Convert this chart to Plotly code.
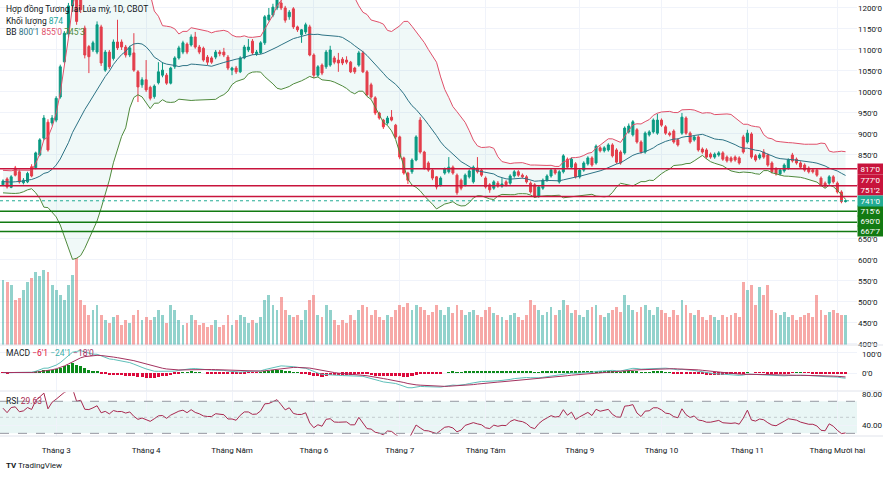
import plotly.graph_objects as go
import pandas as pd

# ---------------- data ----------------
warmup_close = [775, 790, 782, 770, 762, 768, 780, 795, 800, 788, 776, 765, 760, 772, 786,
                798, 805, 812, 796, 780, 770, 778, 792, 800, 790, 782]

open_ = [779, 793, 773, 819, 810, 784, 786, 822, 820, 850, 890, 928, 926, 933, 988, 1072, 1138, 1205, 1280, 1245,
         1152, 1108, 1100, 1095, 1155, 1052, 1095, 1080, 1119, 1119, 1107, 1088, 1093, 1048, 1017, 1029,
         1011, 989, 1022, 1040, 1040, 1021, 1060, 1081, 1095, 1114, 1112, 1131, 1107, 1104, 1083, 1081, 1083, 1095,
         1095, 1083, 1052, 1057, 1048, 1081, 1100, 1121, 1091, 1093, 1117, 1172, 1183, 1200,
         1212, 1200, 1179, 1198, 1155, 1136, 1143, 1155, 1088, 1040, 1064, 1060, 1064, 1081, 1076, 1078, 1076, 1071,
         1057, 1064, 1093, 1048, 1017, 986, 950, 933, 926, 940, 921, 893, 843, 807, 810, 838, 933, 857, 831, 814, 798,
         778, 807, 810, 821, 802, 790, 779, 798, 786, 819, 814, 795, 779, 771, 783, 776, 786, 783, 800, 810, 802, 798,
         783, 779, 752, 771, 790, 800, 814, 786, 810, 840, 821, 829, 798,
         814, 829, 843, 831, 867, 860, 862, 874, 862, 857, 855, 905, 898, 910, 881, 857, 898, 905, 902, 933, 917, 902,
         907, 886, 902, 938, 902, 886, 893, 864, 862, 852, 845, 850, 855, 845,
         843, 845, 843, 893, 881, 900, 848, 843, 857, 850, 831, 817, 805, 812, 819, 850, 840, 831, 826, 819, 814, 814,
         795, 783, 783, 798, 783, 762, 739]
high = [792, 797, 802, 824, 815, 795, 810, 828, 858, 890, 945, 935, 945, 990, 1065, 1145, 1212, 1300, 1292, 1262,
        1158, 1112, 1122, 1168, 1160, 1100, 1100, 1125, 1172, 1125, 1112, 1110, 1140, 1052, 1035, 1076,
        1015, 1018, 1071, 1071, 1045, 1060, 1085, 1110, 1122, 1118, 1137, 1143, 1112, 1108, 1088, 1085, 1100, 1100,
        1105, 1088, 1060, 1062, 1085, 1112, 1126, 1126, 1100, 1121, 1183, 1200, 1210, 1240,
        1222, 1205, 1195, 1202, 1158, 1150, 1165, 1160, 1092, 1064, 1068, 1100, 1110, 1086, 1093, 1083, 1085, 1074,
        1060, 1098, 1098, 1052, 1022, 990, 953, 936, 943, 957, 924, 896, 846, 810, 842, 897, 940, 860, 835, 817, 800,
        799, 820, 845, 825, 806, 794, 806, 816, 825, 845, 818, 799, 783, 790, 788, 795, 790, 804, 814, 814, 806, 802,
        787, 783, 778, 794, 804, 818, 818, 814, 852, 844, 844, 833, 818,
        835, 847, 847, 875, 871, 871, 878, 878, 866, 861, 918, 925, 933, 914, 885, 906, 909, 937, 948, 937, 921, 906,
        911, 890, 950, 942, 906, 897, 897, 868, 866, 856, 856, 859, 859, 849,
        847, 849, 847, 898, 910, 904, 852, 854, 864, 854, 835, 821, 818, 830, 842, 855, 844, 835, 830, 823, 818, 818,
        799, 787, 802, 802, 787, 766, 744]
low = [776, 770, 771, 799, 782, 780, 783, 797, 816, 847, 885, 858, 920, 928, 984, 1068, 1130, 1200, 1160, 1188,
       1080, 1045, 1095, 1090, 1062, 1048, 1055, 1075, 1100, 1100, 1082, 1083, 1048, 976, 1010, 1000,
       980, 984, 1018, 1035, 1017, 1018, 1055, 1077, 1090, 1090, 1108, 1103, 1090, 1072, 1064, 1067, 1078, 1085,
       1083, 1052, 1040, 1043, 1045, 1078, 1095, 1088, 1086, 1090, 1112, 1168, 1178, 1195,
       1195, 1165, 1172, 1150, 1143, 1117, 1138, 1085, 1033, 1036, 1040, 1055, 1060, 1066, 1048, 1064, 1066, 1045,
       1043, 1060, 1045, 990, 984, 945, 934, 912, 922, 930, 888, 840, 803, 781, 805, 835, 853, 815, 810, 790, 768,
       775, 803, 806, 803, 755, 766, 775, 794, 782, 806, 798, 770, 760, 767, 772, 772, 775, 779, 796, 798, 794, 782,
       758, 748, 748, 767, 786, 796, 803, 782, 806, 817, 817, 794, 794,
       810, 825, 822, 827, 856, 856, 858, 844, 829, 827, 851, 901, 894, 877, 853, 853, 894, 901, 898, 917, 898, 894,
       877, 870, 898, 898, 877, 882, 858, 853, 841, 841, 841, 846, 836, 832,
       832, 834, 827, 853, 877, 841, 834, 839, 841, 822, 806, 801, 801, 808, 815, 832, 827, 817, 810, 806, 806, 798,
       775, 772, 779, 782, 758, 735, 737]
close = [788, 774, 798, 802, 786, 790, 806, 800, 855, 886, 938, 862, 938, 985, 1060, 1140, 1205, 1285, 1168, 1196,
         1088, 1084, 1117, 1160, 1069, 1095, 1060, 1119, 1105, 1107, 1088, 1105, 1052, 1012, 1029, 1005,
         985, 1014, 1048, 1052, 1021, 1057, 1081, 1105, 1117, 1095, 1131, 1107, 1095, 1076, 1071, 1071, 1095, 1091,
         1088, 1057, 1057, 1048, 1081, 1107, 1107, 1093, 1095, 1117, 1179, 1183, 1202, 1225,
         1200, 1171, 1190, 1155, 1148, 1148, 1160, 1088, 1040, 1060, 1045, 1095, 1100, 1071, 1069, 1069, 1071, 1048,
         1048, 1093, 1048, 993, 988, 950, 938, 917, 938, 933, 893, 845, 807, 790, 838, 893, 857, 819, 814, 795, 774,
         795, 817, 821, 807, 760, 771, 802, 812, 821, 810, 802, 774, 767, 786, 776, 781, 779, 800, 810, 802, 798, 786,
         762, 752, 774, 790, 800, 814, 807, 810, 848, 821, 840, 798, 814,
         831, 843, 826, 871, 860, 867, 874, 848, 833, 831, 914, 919, 929, 881, 857, 902, 905, 933, 933, 921, 902, 898,
         881, 874, 940, 902, 881, 893, 862, 857, 845, 845, 852, 855, 840, 836,
         836, 838, 831, 857, 902, 845, 838, 850, 845, 826, 810, 805, 814, 826, 838, 836, 831, 821, 814, 810, 810, 802,
         779, 776, 798, 786, 762, 739, 741]
volume = [1885, 1827, 1740, 1305, 1363, 1595, 1827, 1943, 2117, 2001, 2175, 2117, 1740,
          1595, 1450, 1305, 1740, 2030, 2523, 1305, 1160, 870,
          1015, 1160, 870, 725, 638, 812, 870, 580, 725, 638, 870, 1015, 725, 812,
          725, 812, 1015, 870, 638, 1160, 1015, 725, 580, 638, 870, 725, 580, 638, 522, 580, 725, 522, 580, 870, 580,
          725, 870, 812, 638,
          725, 638, 812, 1305, 1450, 1160, 1015, 1392, 1015, 870, 812, 870, 725, 1015, 1305,
          1450, 870, 812, 1160, 1015, 725, 580, 725, 638, 870, 725, 1015, 1160, 1102, 870, 1015, 812, 725, 870, 812,
          1015, 1160, 1102, 1218, 1015,
          1160, 1102, 1015, 870, 957, 1160, 1015, 870, 1102, 928, 1160, 1015, 870, 957, 1015, 870, 812, 1015, 1102,
          928, 870, 812, 725, 870, 928, 812, 725, 870, 1305, 1160,
          1015, 870, 957, 1102, 870, 1015, 1305, 1160, 928, 1015, 870, 812, 1015, 1102, 1160, 870, 812, 928, 1015,
          1102, 957, 1450, 1160, 1015, 957, 1102, 1160, 1015, 870, 1102,
          1015, 928, 812, 1015, 870, 1305, 1160, 928, 870, 1015, 812, 725, 870, 812, 725, 870, 812, 870, 928, 812,
          1827, 1595, 1740, 1160, 1682,
          1450, 1740, 1015, 928, 870, 957, 812, 870, 725, 812, 870, 928, 812, 1450, 1015, 870, 957, 1015, 928, 870, 874]

month_idx = [13, 35, 56, 76, 97, 118, 141, 161, 182, 204]
month_labels = ["Tháng 3", "Tháng 4", "Tháng Năm", "Tháng 6", "Tháng 7", "Tháng Tám",
                "Tháng 9", "Tháng 10", "Tháng 11", "Tháng Mười hai"]
price_ticks = [400, 450, 500, 550, 600, 650, 850, 900, 950, 1000, 1050, 1100, 1150, 1200]
macd_ticks = [0, 100]
rsi_ticks = [40, 80]
levels_red = [817.0, 777.0, 751.25]
levels_green = [715.75, 690.0, 667.875]
last_price = 741.0

title_text = "Hợp đồng Tương lai Lúa mỳ, 1D, CBOT"

# ---------------- styles ----------------
UP = "#089981"
DN = "#F23645"
FONT = "Roboto"
TXT = "#131722"
GRID = "#f0f3fa"
RED_LVL = "#c8143c"
GREEN_LVL = "#127a12"
# pixel nudges of the right-hand level labels (TradingView stacks them)
red_label_shift = [0, 5.6, 6.0]
green_label_shift = [0, 0.7, 0]


def fmt(p):
    neg = p < 0
    a = abs(p)
    w = int(a)
    e = int(round((a - w) * 8))
    if e == 8:
        w += 1
        e = 0
    return ("\u2212" if neg else "") + f"{w}'{e}"


N = len(close)
x = list(range(N))

# ---------------- indicators ----------------
full = pd.Series(warmup_close + close, dtype=float)
mid = full.rolling(20).mean()
sd = full.rolling(20).std(ddof=0)
upper = (mid + 2 * sd).iloc[-N:].tolist()
lower = (mid - 2 * sd).iloc[-N:].tolist()
mid = mid.iloc[-N:].tolist()

ema12 = full.ewm(span=12, adjust=False).mean()
ema26 = full.ewm(span=26, adjust=False).mean()
macd = ema12 - ema26
signal = macd.ewm(span=9, adjust=False).mean()
hist = (macd - signal)
macd = macd.iloc[-N:].tolist()
signal = signal.iloc[-N:].tolist()
hist = hist.iloc[-N:].tolist()

delta = full.diff()
gain = delta.clip(lower=0).ewm(alpha=1 / 14, adjust=False).mean()
loss = (-delta.clip(upper=0)).ewm(alpha=1 / 14, adjust=False).mean()
rsi = (100 - 100 / (1 + gain / loss)).iloc[-N:].tolist()

vol_colors = ["rgba(38,166,154,0.5)" if c >= o else "rgba(239,83,80,0.5)" for o, c in zip(open_, close)]
hist_colors = ["#0c8a1a" if h >= 0 else "#dc0a3c" for h in hist]

fig = go.Figure()

# volume (base axis of the price pane)
fig.add_trace(go.Bar(x=x, y=volume, marker=dict(color=vol_colors, line=dict(width=0)),
                     xaxis="x", yaxis="y", width=0.7, showlegend=False, hoverinfo="skip"))

# Bollinger bands
fig.add_trace(go.Scatter(x=x, y=upper, mode="lines", line=dict(color="#e0506a", width=1),
                         xaxis="x", yaxis="y2", showlegend=False, hoverinfo="skip"))
fig.add_trace(go.Scatter(x=x, y=lower, mode="lines", line=dict(color="#4f8a3c", width=1),
                         fill="tonexty", fillcolor="rgba(38,166,154,0.07)",
                         xaxis="x", yaxis="y2", showlegend=False, hoverinfo="skip"))
fig.add_trace(go.Scatter(x=x, y=mid, mode="lines", line=dict(color="#2d7385", width=1),
                         xaxis="x", yaxis="y2", showlegend=False, hoverinfo="skip"))

# candles
fig.add_trace(go.Candlestick(x=x, open=open_, high=high, low=low, close=close,
                             increasing=dict(line=dict(color=UP, width=1), fillcolor=UP),
                             decreasing=dict(line=dict(color=DN, width=1), fillcolor=DN),
                             whiskerwidth=0, xaxis="x", yaxis="y2", showlegend=False))

# MACD
fig.add_trace(go.Bar(x=x, y=hist, marker=dict(color=hist_colors, line=dict(width=0)), width=0.75,
                     xaxis="x2", yaxis="y3", showlegend=False, hoverinfo="skip"))
fig.add_trace(go.Scatter(x=x, y=macd, mode="lines", line=dict(color="#5fbfb9", width=1),
                         xaxis="x2", yaxis="y3", showlegend=False, hoverinfo="skip"))
fig.add_trace(go.Scatter(x=x, y=signal, mode="lines", line=dict(color="#a3325f", width=1),
                         xaxis="x2", yaxis="y3", showlegend=False, hoverinfo="skip"))

# RSI
fig.add_trace(go.Scatter(x=x, y=rsi, mode="lines", line=dict(color="#a8284f", width=1),
                         xaxis="x3", yaxis="y4", showlegend=False, hoverinfo="skip"))

H_PLOT = 436.0
W_PLOT = 857.0
p_main = 1 - 345 / H_PLOT
p_macd = 1 - 391 / H_PLOT

xr = [-0.73, 208.8]
xcommon = dict(range=xr, tickvals=month_idx, showgrid=True, gridcolor=GRID, gridwidth=1,
               zeroline=False, showline=False)

shapes = []
for lv in levels_red:
    shapes.append(dict(type="line", xref="paper", x0=0, x1=1, yref="y2", y0=lv, y1=lv,
                       line=dict(color=RED_LVL, width=1.5)))
for lv in levels_green:
    shapes.append(dict(type="line", xref="paper", x0=0, x1=1, yref="y2", y0=lv, y1=lv,
                       line=dict(color=GREEN_LVL, width=1.5)))
shapes.append(dict(type="line", xref="paper", x0=0, x1=1, yref="y2", y0=last_price, y1=last_price,
                   line=dict(color="#22ab94", width=1, dash="dot")))
# RSI band
shapes.append(dict(type="rect", xref="paper", x0=0, x1=1, yref="y4", y0=30, y1=70,
                   fillcolor="rgba(38,166,154,0.10)", line=dict(width=0), layer="below"))
for lv in (70, 30):
    shapes.append(dict(type="line", xref="paper", x0=0, x1=1, yref="y4", y0=lv, y1=lv,
                       line=dict(color="#9598a1", width=1, dash="dash")))
shapes.append(dict(type="line", xref="paper", x0=0, x1=1, yref="y4", y0=50, y1=50,
                   line=dict(color="rgba(149,152,161,0.45)", width=1, dash="dot")))
# pane separators
for py in (p_main, p_macd):
    shapes.append(dict(type="line", xref="paper", x0=0, x1=883 / W_PLOT, yref="paper", y0=py, y1=py,
                       line=dict(color="#e0e3eb", width=1)))
shapes.append(dict(type="line", xref="paper", x0=0, x1=883 / W_PLOT, yref="paper", y0=0, y1=0,
                   line=dict(color="#e0e3eb", width=1)))

ann = []


def lvl_label(lv, color, shift):
    return dict(xref="paper", x=1, xanchor="left", yref="y2", y=lv, yshift=shift, text=fmt(lv),
                showarrow=False, bgcolor=color, font=dict(color="white", size=8, family=FONT),
                width=25, height=10, borderpad=0, valign="middle")


for lv, s in zip(levels_red, red_label_shift):
    ann.append(lvl_label(lv, RED_LVL, s))
for lv, s in zip(levels_green, green_label_shift):
    ann.append(lvl_label(lv, GREEN_LVL, s))
ann.append(lvl_label(last_price, "#22ab94", 0))


def axis_label(yref, v, text, shift=0):
    return dict(xref="paper", x=1, xanchor="left", xshift=3, yref=yref, y=v, yshift=shift, text=text,
                showarrow=False, font=dict(color=TXT, size=8, family=FONT))


for v in macd_ticks:
    ann.append(axis_label("y3", v, fmt(v), -2 if v > 0 else 0))
for v in rsi_ticks:
    ann.append(axis_label("y4", v, f"{v:.2f}", -1 if v == 80 else 0))


def tl(text, ypx, size=8.5):
    return dict(xref="paper", x=4 / W_PLOT, xanchor="left", yref="paper", y=1 - ypx / H_PLOT,
                yanchor="middle", text=text, showarrow=False, align="left",
                font=dict(color=TXT, size=size, family=FONT))


ann.append(tl(title_text, 9))
ann.append(tl("Khối lượng <span style='color:#26a69a'>874</span>", 21))
ann.append(tl("BB <span style='color:#2d7385'>800'1</span> <span style='color:#e0506a'>855'0</span> "
              "<span style='color:#4f8a3c'>745'3</span>", 32))
ann.append(tl("MACD <span style='color:#dc0a3c'>\u22126'1</span> <span style='color:#3fb0aa'>\u221224'1</span> "
              "<span style='color:#a3325f'>\u221218'0</span>", 353))
ann.append(tl("RSI <span style='color:#a8284f'>29.63</span>", 401))
ann.append(tl("<b>TV</b> TradingView", 466, 8))

fig.update_layout(
    width=883, height=478,
    margin=dict(l=0, r=26, t=0, b=42),
    paper_bgcolor="white", plot_bgcolor="white",
    font=dict(family=FONT, size=8, color=TXT),
    showlegend=False,
    bargap=0,
    xaxis=dict(**xcommon, anchor="y", showticklabels=False, ticks="", rangeslider=dict(visible=False)),
    xaxis2=dict(**xcommon, anchor="y3", matches="x", showticklabels=False, ticks=""),
    xaxis3=dict(**xcommon, anchor="y4", matches="x", showticklabels=True, ticktext=month_labels,
                ticks="outside", ticklen=6, tickcolor="rgba(0,0,0,0)",
                tickfont=dict(size=8, color=TXT, family=FONT)),
    yaxis=dict(domain=[p_main, 1], range=[0, 10000], visible=False, fixedrange=True),
    yaxis2=dict(overlaying="y", side="right", anchor="x", range=[397.6, 1219],
                tickvals=price_ticks, ticktext=[fmt(v) for v in price_ticks],
                showgrid=True, gridcolor=GRID, zeroline=False, ticks="",
                tickfont=dict(size=8, color=TXT, family=FONT)),
    yaxis3=dict(domain=[p_macd, p_main - 0.003], side="right", anchor="x2", range=[-85.7, 128.6],
                tickvals=macd_ticks, showticklabels=False, showgrid=True, gridcolor=GRID,
                zeroline=False, ticks=""),
    yaxis4=dict(domain=[0, p_macd - 0.003], side="right", anchor="x3", range=[26.7, 81.2],
                tickvals=rsi_ticks, showticklabels=False, showgrid=True, gridcolor=GRID,
                zeroline=False, ticks=""),
    shapes=shapes,
    annotations=ann,
)

fig.write_html("out.html")
